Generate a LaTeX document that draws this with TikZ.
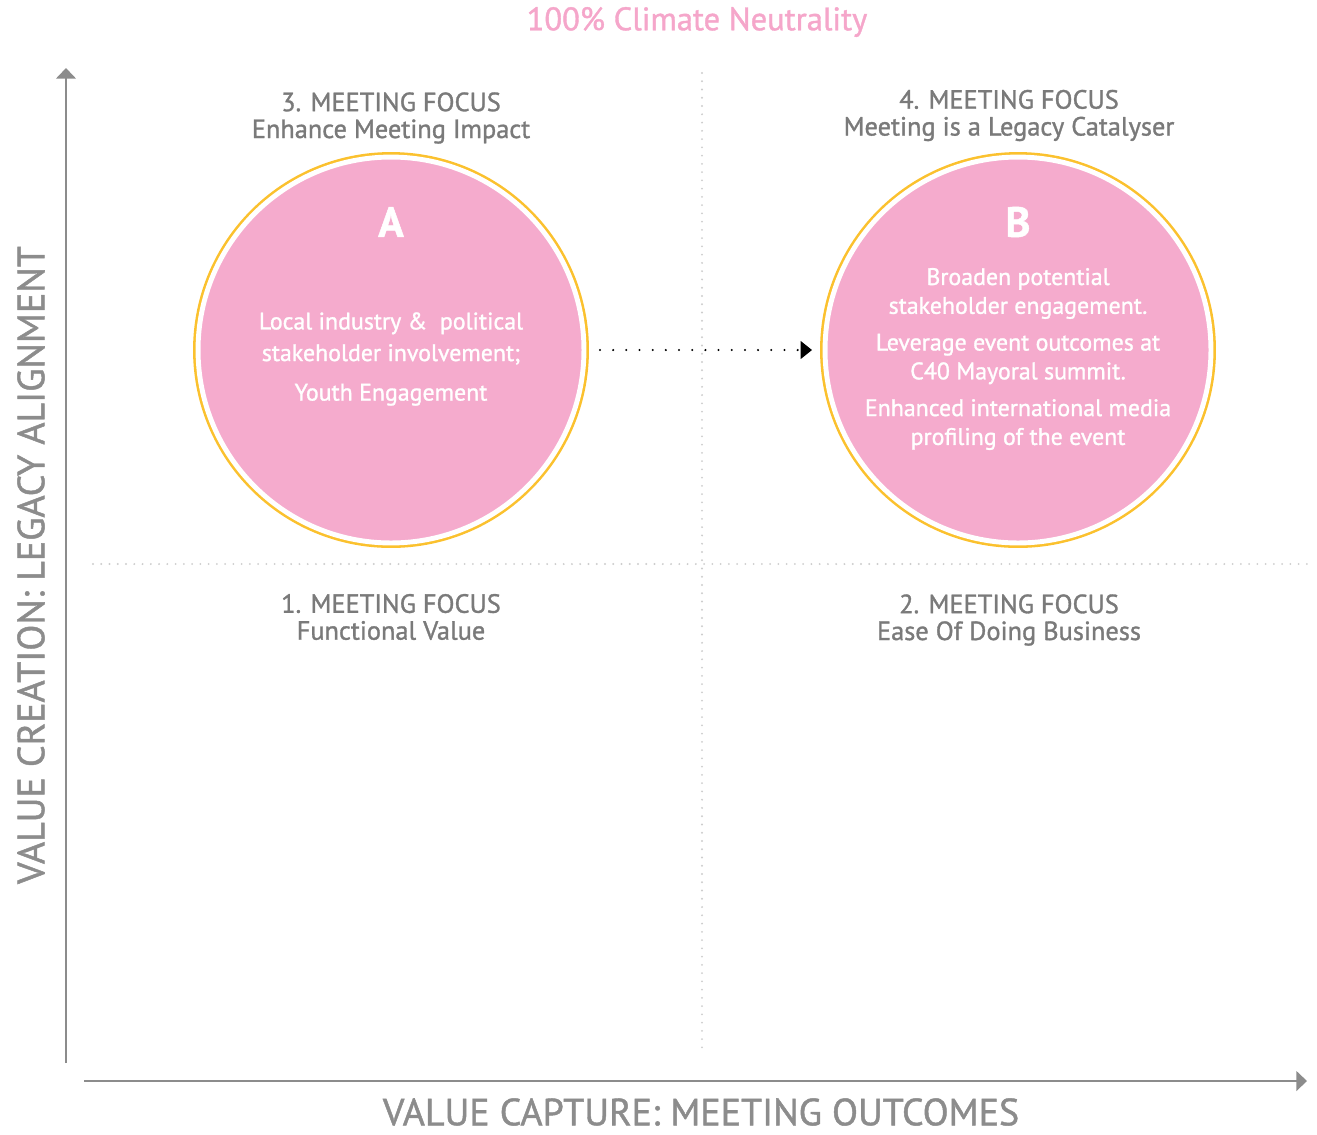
\documentclass[tikz,border=0pt]{standalone}
\usepackage{fontspec}
\setmainfont{PT Sans}[FakeBold=1.2]
\usetikzlibrary{arrows.meta}
\definecolor{bubblepink}{HTML}{F5ABCD}
\definecolor{ringyellow}{HTML}{FBC12E}
\definecolor{axisgray}{HTML}{8C8C8C}
\definecolor{labelgray}{HTML}{7A7A7A}
\definecolor{gridgray}{HTML}{CDCDCD}
\definecolor{titlepink}{HTML}{F5A6CA}
\tikzset{
  axis/.style={axisgray, line width=1.5pt, -{Triangle[length=6pt,width=11pt]}},
  divider/.style={gridgray, line width=1.2pt, line cap=round, dash pattern=on 0pt off 4.7pt},
  flow/.style={black, line width=1.3pt, line cap=round, dash pattern=on 0pt off 7.5pt,
    -{Triangle[length=6.5pt,width=10pt]}, shorten <=0.32cm, shorten >=0.26cm},
  bubble/.style={circle, minimum size=7.72cm, inner sep=0pt, outer sep=0pt, fill=bubblepink,
    draw=white, line width=2.8pt, preaction={draw=ringyellow, line width=5.7pt}},
  axislabel/.style={text=axisgray, inner sep=0pt, font=\fontsize{21.6}{26}\selectfont},
  focus/.style={text=labelgray, align=center, font=\fontsize{15}{15.3}\selectfont},
  letter/.style={text=white, font=\fontsize{24}{28}\selectfont\bfseries},
  bubbletext/.style={text=white, align=center, font=\fontsize{13.6}{16.4}\selectfont}
}
\begin{document}
\begin{tikzpicture}[x=0.02cm, y=-0.02cm]
\useasboundingbox (0,0) rectangle (1317,1134);
\node (title) [text=titlepink, font=\fontsize{18.5}{22}\selectfont] at (697,22) {100\% Climate Neutrality};
% axes
\coordinate (ybase) at (66,1063);
\coordinate (ytip) at (66,68);
\coordinate (xbase) at (84,1081);
\coordinate (xtip) at (1307,1081);
\draw [axis] (ybase) -- (ytip);
\draw [axis] (xbase) -- (xtip);
\node (ylabel) [axislabel, rotate=90] at (31,565) {VALUE CREATION: LEGACY ALIGNMENT};
\node (xlabel) [axislabel] at (701,1112) {VALUE CAPTURE: MEETING OUTCOMES};
% quadrants
\coordinate (vtop) at (702,73);
\coordinate (vbot) at (702,1053);
\coordinate (hleft) at (93,564);
\coordinate (hright) at (1310,564);
\draw [divider] (vtop) -- (vbot);
\draw [divider] (hleft) -- (hright);
\node (focus3) [focus] at (391,118) {3. MEETING FOCUS\\Enhance Meeting Impact};
\node (focus4) [focus] at (1009,115.5) {4. MEETING FOCUS\\Meeting is a Legacy Catalyser};
\node (focus1) [focus] at (391,617) {1. MEETING FOCUS\\Functional Value};
\node (focus2) [focus] at (1009,620) {2. MEETING FOCUS\\Ease Of Doing Business};
% bubbles
\node (circA) [bubble] at (391,350) {};
\node (circB) [bubble] at (1018,350) {};
\node (letA) [letter] at (391,222) {A};
\node (letB) [letter] at (1018,222) {B};
\node (txtA) [bubbletext, font=\fontsize{13.6}{18}\selectfont] at (391,359) {Local industry \& \ political\\stakeholder involvement;\\[4.5pt]Youth Engagement};
\node (txtB) [bubbletext] at (1018,359) {Broaden potential\\stakeholder engagement.\\[4.5pt]Leverage event outcomes at\\C40 Mayoral summit.\\[4.5pt]Enhanced international media\\profiling of the event};
\draw [flow] (circA) -- (circB);
\end{tikzpicture}
\end{document}
